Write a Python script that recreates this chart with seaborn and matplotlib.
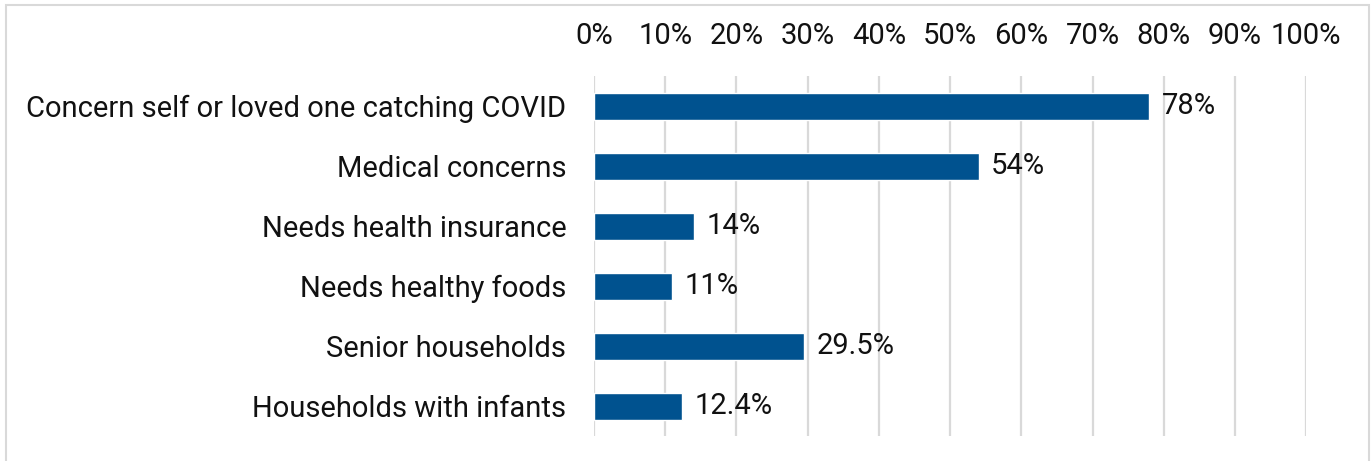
import matplotlib
matplotlib.use("Agg")
import matplotlib.pyplot as plt
import seaborn as sns
import pandas as pd
from matplotlib.patches import Rectangle
from matplotlib.ticker import MultipleLocator, FuncFormatter

categories = [
    "Concern self or loved one catching COVID",
    "Medical concerns",
    "Needs health insurance",
    "Needs healthy foods",
    "Senior households",
    "Households with infants",
]
values = [78, 54, 14, 11, 29.5, 12.4]
value_labels = ["78%", "54%", "14%", "11%", "29.5%", "12.4%"]

sns.set_theme(style="white")
plt.rcParams["font.family"] = ["Roboto", "DejaVu Sans"]

df = pd.DataFrame({"category": categories, "value": values})

fig = plt.figure(figsize=(13.72, 4.61), dpi=100)
ax = fig.add_axes([0.433, 0.054, 0.519, 0.781])

sns.barplot(data=df, x="value", y="category", orient="h", color="#00528F",
            width=0.45, saturation=1, ax=ax, zorder=3)

ax.set_xlim(0, 100)
ax.set_ylim(5.5, -0.5)
ax.xaxis.set_major_locator(MultipleLocator(10))
ax.xaxis.set_major_formatter(FuncFormatter(lambda v, _: f"{v:.0f}%"))
ax.xaxis.tick_top()
ax.tick_params(axis="x", which="both", length=0, pad=19, labelsize=21,
               labelcolor="#111111", top=False, bottom=False)
ax.tick_params(axis="y", length=0, pad=20, labelsize=21, labelcolor="#111111")
ax.grid(axis="x", color="#D9D9D9", linewidth=1.6, zorder=0)
ax.grid(axis="y", visible=False)
for s in ax.spines.values():
    s.set_visible(False)
ax.set_xlabel("")
ax.set_ylabel("")

for t in ax.bar_label(ax.containers[0], labels=value_labels, padding=9,
                      fontsize=21, color="#111111"):
    t.set_va("center")

fig.patches.append(Rectangle((6 / 1372, -0.1), 1363 / 1372, 1.1 - 5 / 461,
                             transform=fig.transFigure, fill=False,
                             edgecolor="#D9D9D9", linewidth=1.5, clip_on=False))

fig.savefig("out.png", dpi=100)
